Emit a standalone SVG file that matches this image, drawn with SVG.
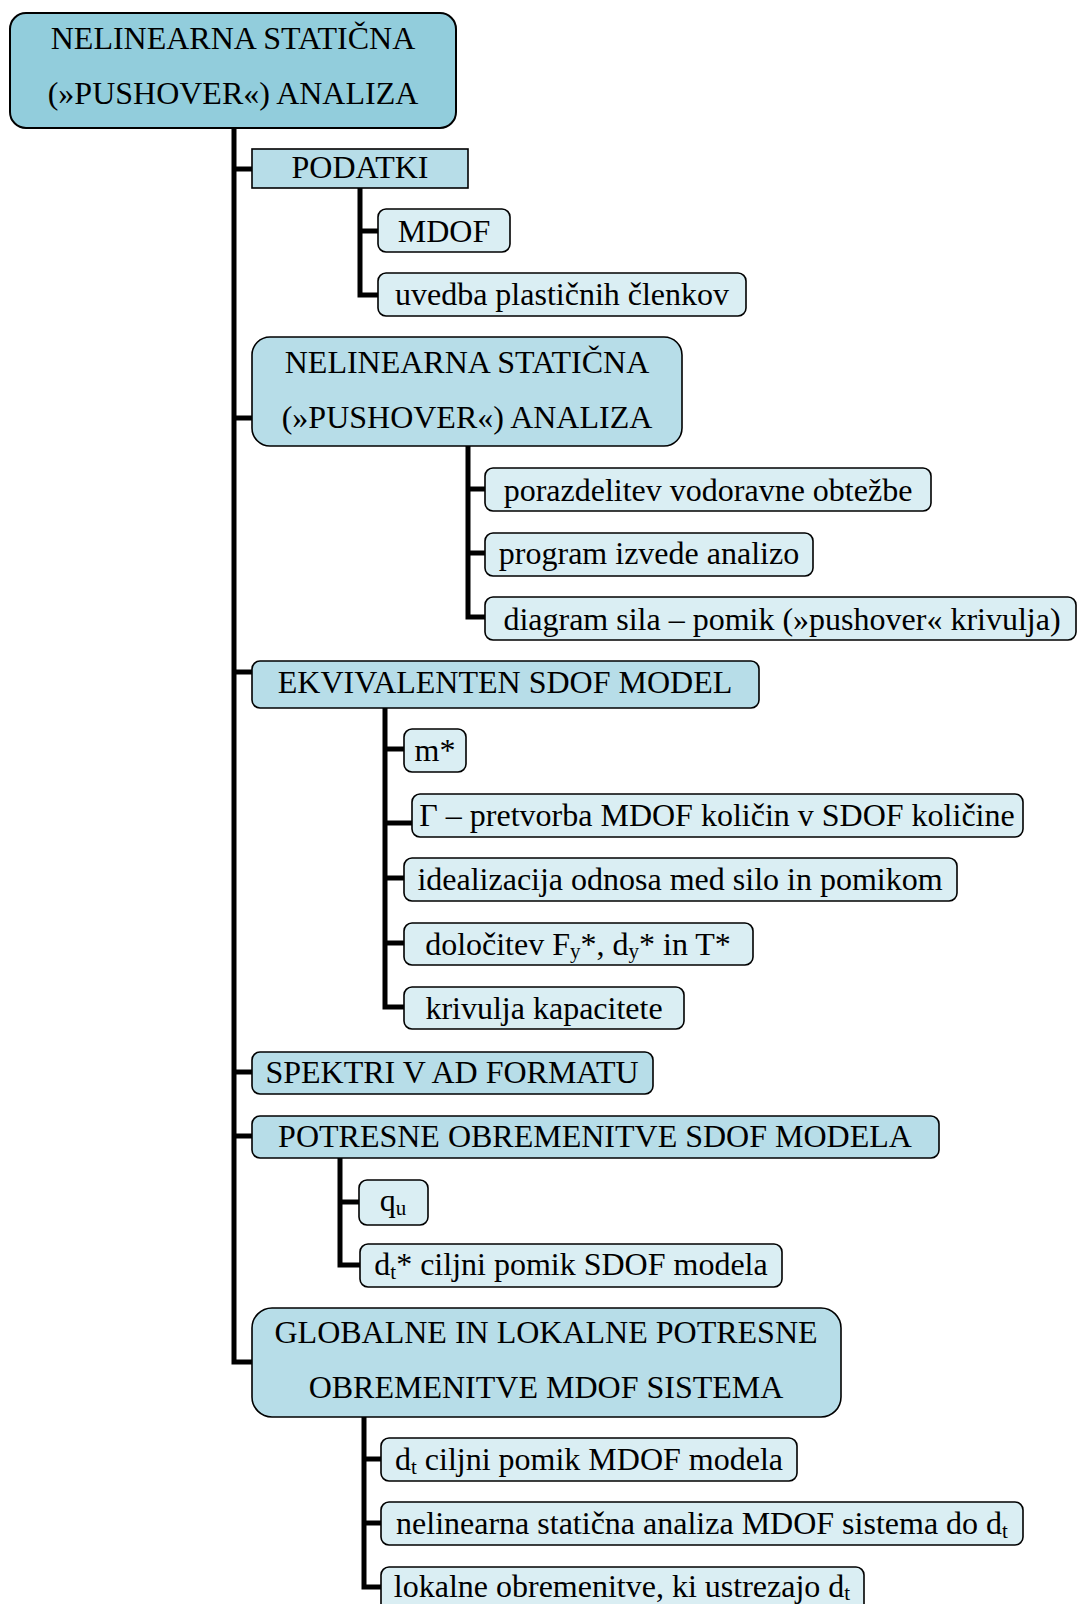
<svg xmlns="http://www.w3.org/2000/svg" width="1077" height="1604" viewBox="0 0 1077 1604">
<style>
text{font-family:"Liberation Serif","Times New Roman",serif;font-size:32px;fill:#000;text-anchor:middle}
.sub{font-size:21px}
.root{fill:#92CDDC;stroke:#000;stroke-width:2}
.mid{fill:#B7DDE8;stroke:#000;stroke-width:1.6}
.leaf{fill:#DAEEF3;stroke:#000;stroke-width:1.6}
.conn path{fill:none;stroke:#000;stroke-width:5;stroke-linejoin:miter;stroke-linecap:butt}
</style>
<rect width="1077" height="1604" fill="#fff"/>
<g class="conn" id="connectors">
<path d="M234 128V1362H252"/>
<path d="M234 169H252"/>
<path d="M234 418H252"/>
<path d="M234 672H252"/>
<path d="M234 1072H252"/>
<path d="M234 1136H252"/>
<path d="M360 188V295H378"/>
<path d="M360 231H378"/>
<path d="M468 446V617H485"/>
<path d="M468 489H485"/>
<path d="M468 553H485"/>
<path d="M385 708V1007H404"/>
<path d="M385 749H404"/>
<path d="M385 823H412"/>
<path d="M385 878H404"/>
<path d="M385 943H404"/>
<path d="M340 1158V1265H360"/>
<path d="M340 1202H359"/>
<path d="M364 1417V1587H381"/>
<path d="M364 1459H381"/>
<path d="M364 1523H381"/>
</g>
<g id="n-root"><rect class="root" x="10" y="13" width="446" height="115" rx="16"/><text x="233" y="49">NELINEARNA STATIČNA</text><text x="233" y="104">(»PUSHOVER«) ANALIZA</text></g>
<g id="n-podatki"><rect class="mid" x="252" y="149" width="216" height="39"/><text x="360" y="178">PODATKI</text></g>
<g id="n-mdof"><rect class="leaf" x="378" y="209" width="132" height="43" rx="8"/><text x="444" y="242">MDOF</text></g>
<g id="n-uvedba"><rect class="leaf" x="378" y="273" width="368" height="43" rx="8"/><text x="562" y="305">uvedba plastičnih členkov</text></g>
<g id="n-pushover"><rect class="mid" x="252" y="337" width="430" height="109" rx="18"/><text x="467" y="373">NELINEARNA STATIČNA</text><text x="467" y="428">(»PUSHOVER«) ANALIZA</text></g>
<g id="n-porazdelitev"><rect class="leaf" x="485" y="468" width="446" height="43" rx="8"/><text x="708" y="501">porazdelitev vodoravne obtežbe</text></g>
<g id="n-program"><rect class="leaf" x="485" y="533" width="328" height="43" rx="8"/><text x="649" y="564">program izvede analizo</text></g>
<g id="n-diagram"><rect class="leaf" x="485" y="597" width="591" height="43" rx="8"/><text x="782" y="630">diagram sila – pomik (»pushover« krivulja)</text></g>
<g id="n-sdof"><rect class="mid" x="252" y="661" width="507" height="47" rx="8"/><text x="505" y="693">EKVIVALENTEN SDOF MODEL</text></g>
<g id="n-m"><rect class="leaf" x="404" y="729" width="62" height="43" rx="8"/><text x="435" y="761">m*</text></g>
<g id="n-gamma"><rect class="leaf" x="412" y="794" width="611" height="43" rx="8"/><text x="717" y="826">Γ – pretvorba MDOF količin v SDOF količine</text></g>
<g id="n-ideal"><rect class="leaf" x="404" y="858" width="553" height="43" rx="8"/><text x="680" y="890">idealizacija odnosa med silo in pomikom</text></g>
<g id="n-dolocitev"><rect class="leaf" x="404" y="923" width="349" height="42" rx="8"/><text x="578" y="955">določitev F<tspan class="sub" dy="3">y</tspan><tspan dy="-3">*, d</tspan><tspan class="sub" dy="3">y</tspan><tspan dy="-3">* in T*</tspan></text></g>
<g id="n-krivulja"><rect class="leaf" x="404" y="987" width="280" height="42" rx="8"/><text x="544" y="1019">krivulja kapacitete</text></g>
<g id="n-spektri"><rect class="mid" x="252" y="1052" width="401" height="42" rx="8"/><text x="452" y="1083">SPEKTRI V AD FORMATU</text></g>
<g id="n-potresne"><rect class="mid" x="252" y="1116" width="687" height="42" rx="8"/><text x="595" y="1147">POTRESNE OBREMENITVE SDOF MODELA</text></g>
<g id="n-qu"><rect class="leaf" x="359" y="1180" width="69" height="45" rx="8"/><text x="393" y="1211">q<tspan class="sub" dy="4">u</tspan></text></g>
<g id="n-dtstar"><rect class="leaf" x="360" y="1244" width="422" height="43" rx="8"/><text x="571" y="1275">d<tspan class="sub" dy="4">t</tspan><tspan dy="-4">* ciljni pomik SDOF modela</tspan></text></g>
<g id="n-globalne"><rect class="mid" x="252" y="1308" width="589" height="109" rx="20"/><text x="546" y="1343">GLOBALNE IN LOKALNE POTRESNE</text><text x="546" y="1398">OBREMENITVE MDOF SISTEMA</text></g>
<g id="n-dt"><rect class="leaf" x="381" y="1438" width="416" height="43" rx="8"/><text x="589" y="1470">d<tspan class="sub" dy="4">t</tspan><tspan dy="-4"> ciljni pomik MDOF modela</tspan></text></g>
<g id="n-nelin"><rect class="leaf" x="381" y="1502" width="642" height="43" rx="8"/><text x="702" y="1534">nelinearna statična analiza MDOF sistema do d<tspan class="sub" dy="4">t</tspan></text></g>
<g id="n-lokalne"><rect class="leaf" x="381" y="1567" width="483" height="50" rx="8"/><text x="622" y="1597">lokalne obremenitve, ki ustrezajo d<tspan class="sub" dy="3">t</tspan></text></g>
</svg>
